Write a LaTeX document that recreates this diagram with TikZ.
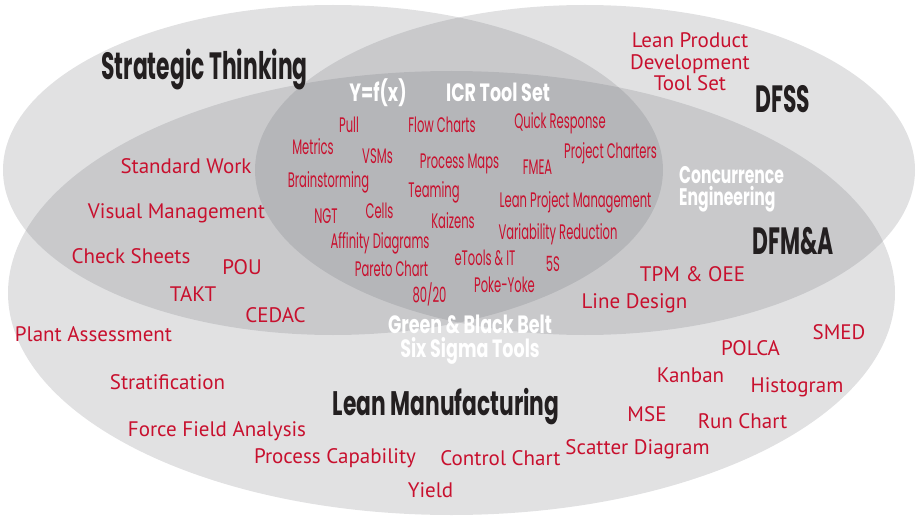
\documentclass[tikz,border=0pt]{standalone}
\usepackage{fontspec}
\newfontfamily\toolfont{PT Sans}
\newfontfamily\condfont[FakeStretch=0.55]{Poppins}
\newfontfamily\headfont[FakeStretch=0.575]{Poppins}
\newfontfamily\mfgfont[FakeStretch=0.64]{Poppins}
\newfontfamily\whitefont[FakeStretch=0.7]{Poppins}
\newfontfamily\concurfont[FakeStretch=0.65]{Poppins}
\definecolor{venngray}{RGB}{105,106,112}
\definecolor{toolred}{RGB}{200,16,46}
\definecolor{headblack}{RGB}{35,31,32}

\begin{document}
\begin{tikzpicture}[
        x=1pt, y=-1pt,
        venn/.style={fill=venngray, fill opacity=0.2},
        tool/.style={toolred, inner sep=0pt, anchor=base,
        	font={\toolfont\fontsize{21}{21.5}\selectfont}},
        icrtool/.style={toolred, inner sep=0pt, anchor=base,
        	font={\condfont\fontsize{21}{22}\selectfont}},
        heading/.style={headblack, inner sep=0pt, anchor=base,
        	font={\headfont\bfseries\fontsize{38}{40}\selectfont}},
        whitehead/.style={white, inner sep=0pt,
        	font={\whitefont\bfseries\fontsize{25}{24}\selectfont}}
    ]
    \useasboundingbox (0,0) rectangle (921,516);

    %the three sets
    \fill[venn] (333,170) ellipse [x radius=330pt, y radius=165pt];
    \fill[venn] (585,170) ellipse [x radius=330pt, y radius=165pt];
    \fill[venn] (451.5,293) ellipse [x radius=443.5pt, y radius=222pt];

    %set names
    \node[heading] (strategic) at (204.5,80) {Strategic Thinking};
    \node[heading] (dfss) at (783,113) {DFSS};
    \node[heading] (dfma) at (793,254) {DFM\&A};
    \node[heading, font={\mfgfont\bfseries\fontsize{34}{36}\selectfont}] (leanmfg) at (446,415) {Lean Manufacturing};

    \node[whitehead, anchor=base] (yfx) at (378,102) {Y=f(x)};
    \node[whitehead, anchor=base] (icr) at (498,102) {ICR Tool Set};
    \node[whitehead, align=left, anchor=west,
    	font={\concurfont\bfseries\fontsize{24}{22}\selectfont}] (concur) at (679,189) {Concurrence\\Engineering};
    \node[whitehead, align=center] (belts) at (470,340) {Green \& Black Belt\\Six Sigma Tools};

    %tools in the inner set
    \node[icrtool] (pull) at (349,133) {Pull};
    \node[icrtool] (metrics) at (313,155) {Metrics};
    \node[icrtool] (vsms) at (377.5,164) {VSMs};
    \node[icrtool] (brainst) at (328.5,187) {Brainstorming};
    \node[icrtool] (ngt) at (326,223) {NGT};
    \node[icrtool] (cells) at (379.5,218) {Cells};
    \node[icrtool] (affinity) at (380,248) {Affinity Diagrams};
    \node[icrtool] (flowch) at (442,133) {Flow Charts};
    \node[icrtool] (procmaps) at (459.5,168) {Process Maps};
    \node[icrtool] (quickresp) at (560,129) {Quick Response};
    \node[icrtool] (projch) at (610.5,158) {Project Charters};
    \node[icrtool] (fmea) at (537.5,175) {FMEA};
    \node[icrtool] (teaming) at (434,197) {Teaming};
    \node[icrtool] (kaizens) at (453,228) {Kaizens};
    \node[icrtool] (leanpm) at (575.5,207) {Lean Project Management};
    \node[icrtool] (varred) at (558,239) {Variability Reduction};
    \node[icrtool] (pareto) at (391.5,276) {Pareto Chart};
    \node[icrtool] (etools) at (485,265) {eTools \& IT};
    \node[icrtool] (fives) at (553,271) {5S};
    \node[icrtool] (eighty) at (429.5,302) {80/20};
    \node[icrtool] (pokeyoke) at (504.5,292) {Poke-Yoke};

    %tools in the outer sets
    \node[tool, anchor=center, align=center] (leanpd) at (690,62) {Lean Product\\Development\\Tool Set};
    \node[tool] (stdwork) at (186,174) {Standard Work};
    \node[tool] (visual) at (176.5,218) {Visual Management};
    \node[tool] (checks) at (131,263) {Check Sheets};
    \node[tool] (pou) at (242,274) {POU};
    \node[tool] (takt) at (193,301) {TAKT};
    \node[tool] (cedac) at (275.5,322) {CEDAC};
    \node[tool] (plant) at (93.5,341) {Plant Assessment};
    \node[tool] (strat) at (167.5,389) {Stratification};
    \node[tool] (forcef) at (217,436) {Force Field Analysis};
    \node[tool] (capab) at (335,463) {Process Capability};
    \node[tool] (yield) at (430.5,497) {Yield};
    \node[tool] (controlch) at (500.5,465) {Control Chart};
    \node[tool] (scatter) at (637.5,454) {Scatter Diagram};
    \node[tool] (mse) at (647,421) {MSE};
    \node[tool] (runch) at (742.5,428) {Run Chart};
    \node[tool] (kanban) at (690.5,382) {Kanban};
    \node[tool] (histo) at (797,392) {Histogram};
    \node[tool] (polca) at (750.5,355) {POLCA};
    \node[tool] (smed) at (839,339) {SMED};
    \node[tool] (tpm) at (692.5,281) {TPM \& OEE};
    \node[tool] (linedes) at (634.5,308) {Line Design};
\end{tikzpicture}
\end{document}
